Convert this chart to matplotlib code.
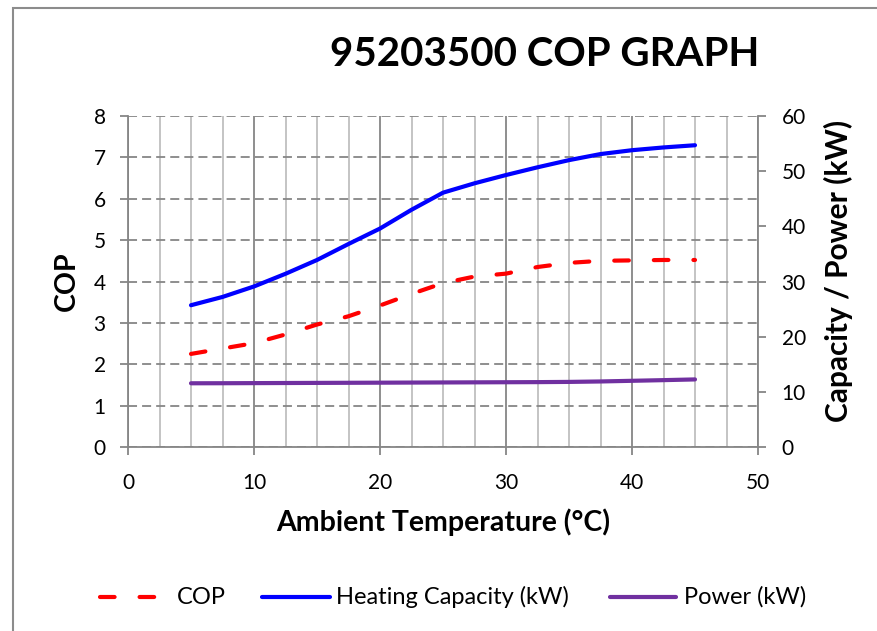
import matplotlib
matplotlib.use('Agg')
import matplotlib.pyplot as plt
from matplotlib.ticker import MultipleLocator
from matplotlib.lines import Line2D
from matplotlib.patches import Rectangle

plt.rcParams['font.family'] = ['Lato', 'DejaVu Sans']

# ---- data ----
temps = [5, 7.5, 10, 12.5, 15, 17.5, 20, 22.5, 25, 27.5, 30, 32.5, 35, 37.5, 40, 42.5, 45]
cop = [2.25, 2.38, 2.51, 2.72, 2.96, 3.16, 3.42, 3.70, 3.96, 4.12, 4.19, 4.35, 4.45, 4.50, 4.51, 4.52, 4.52]
capacity = [25.7, 27.2, 29.1, 31.4, 33.9, 36.8, 39.6, 43.0, 46.1, 47.8, 49.3, 50.7, 52.0, 53.1, 53.8, 54.3, 54.7]
power = [11.55, 11.56, 11.58, 11.60, 11.62, 11.64, 11.66, 11.68, 11.70, 11.72, 11.74, 11.76, 11.80, 11.88, 12.00, 12.12, 12.25]

x_ticks = [0, 10, 20, 30, 40, 50]
cop_ticks = [0, 1, 2, 3, 4, 5, 6, 7, 8]
cap_ticks = [0, 10, 20, 30, 40, 50, 60]

title = "95203500 COP GRAPH"
xlabel = "Ambient Temperature (°C)"
ylabel_left = "COP"
ylabel_right = "Capacity / Power (kW)"
legend_labels = ["COP", "Heating Capacity (kW)", "Power (kW)"]

RED = '#FF0000'
BLUE = '#0000FF'
PURPLE = '#7030A0'
GRID_DARK = '#868686'
GRID_LIGHT = '#BFBFBF'

W, H = 877, 631
fig = plt.figure(figsize=(W / 100, H / 100), dpi=100)

def fx(px):
    return px / W

def fy(py):
    return 1 - py / H

ax = fig.add_axes([fx(128), fy(447), fx(758) - fx(128), fy(116) - fy(447)])
ax2 = ax.twinx()

ax.set_xlim(0, 50)
ax.set_ylim(0, 8)
ax2.set_ylim(0, 60)
ax.set_xticks(x_ticks)
ax.xaxis.set_minor_locator(MultipleLocator(2.5))
ax.set_yticks(cop_ticks)
ax2.set_yticks(cap_ticks)

ax.grid(axis='x', which='minor', color=GRID_LIGHT, lw=1.3, zorder=0)
ax.grid(axis='x', which='major', color=GRID_DARK, lw=1.3, zorder=0)
ax.grid(axis='y', which='major', color=GRID_DARK, lw=1.3, ls=(0, (5, 2.8)), zorder=0)
ax.set_axisbelow(True)

for a in (ax, ax2):
    a.spines['top'].set_visible(False)
ax.spines['right'].set_visible(False)
ax2.spines['left'].set_visible(False)
ax2.spines['bottom'].set_visible(False)
for s in (ax.spines['left'], ax.spines['bottom'], ax2.spines['right']):
    s.set_color(GRID_DARK)
    s.set_linewidth(1.3)

ax.tick_params(axis='both', which='major', direction='out', length=6, width=1.3,
               color=GRID_DARK, labelsize=15)
ax.tick_params(axis='y', pad=10)
ax.tick_params(axis='x', which='minor', length=0)
ax.tick_params(axis='x', pad=13)
ax2.tick_params(axis='y', direction='out', length=6, width=1.3, color=GRID_DARK,
                labelsize=15, pad=11)

ax.plot(temps, cop, color=RED, lw=3, ls=(0, (3.5, 6)), dash_capstyle='round',
        solid_capstyle='round', zorder=3)
ax2.plot(temps, capacity, color=BLUE, lw=3, solid_capstyle='round', zorder=3)
ax2.plot(temps, power, color=PURPLE, lw=3, solid_capstyle='round', zorder=3)

fig.text(fx(545), fy(55), title, ha='center', va='center', fontsize=29, weight='bold')
fig.text(fx(443), fy(522), xlabel, ha='center', va='center', fontsize=20.5, weight='bold')
fig.text(fx(67), fy(281), ylabel_left, ha='center', va='center', fontsize=20.5,
         weight='bold', rotation=90)
fig.text(fx(838), fy(271), ylabel_right, ha='center', va='center', fontsize=21.5,
         weight='bold', rotation=90)

# legend
ly = fy(597)
fs_leg = 17
fig.add_artist(Line2D([fx(100), fx(172)], [ly, ly], transform=fig.transFigure, color=RED,
                      lw=3, ls=(0, (3.5, 6)), dash_capstyle='round'))
fig.text(fx(177), ly, legend_labels[0], ha='left', va='center', fontsize=fs_leg)
fig.add_artist(Line2D([fx(262), fx(330)], [ly, ly], transform=fig.transFigure, color=BLUE,
                      lw=3, solid_capstyle='round'))
fig.text(fx(336), ly, legend_labels[1], ha='left', va='center', fontsize=fs_leg)
fig.add_artist(Line2D([fx(610), fx(676)], [ly, ly], transform=fig.transFigure, color=PURPLE,
                      lw=3, solid_capstyle='round'))
fig.text(fx(684), ly, legend_labels[2], ha='left', va='center', fontsize=fs_leg)

# outer frame (cut off at right/bottom as in the reference)
fig.add_artist(Rectangle((fx(13), -0.2), 1.5, fy(8) + 0.2, transform=fig.transFigure,
                         fill=False, edgecolor='#8C8C8C', lw=1.5, clip_on=False))

fig.savefig('out.png', dpi=100)
